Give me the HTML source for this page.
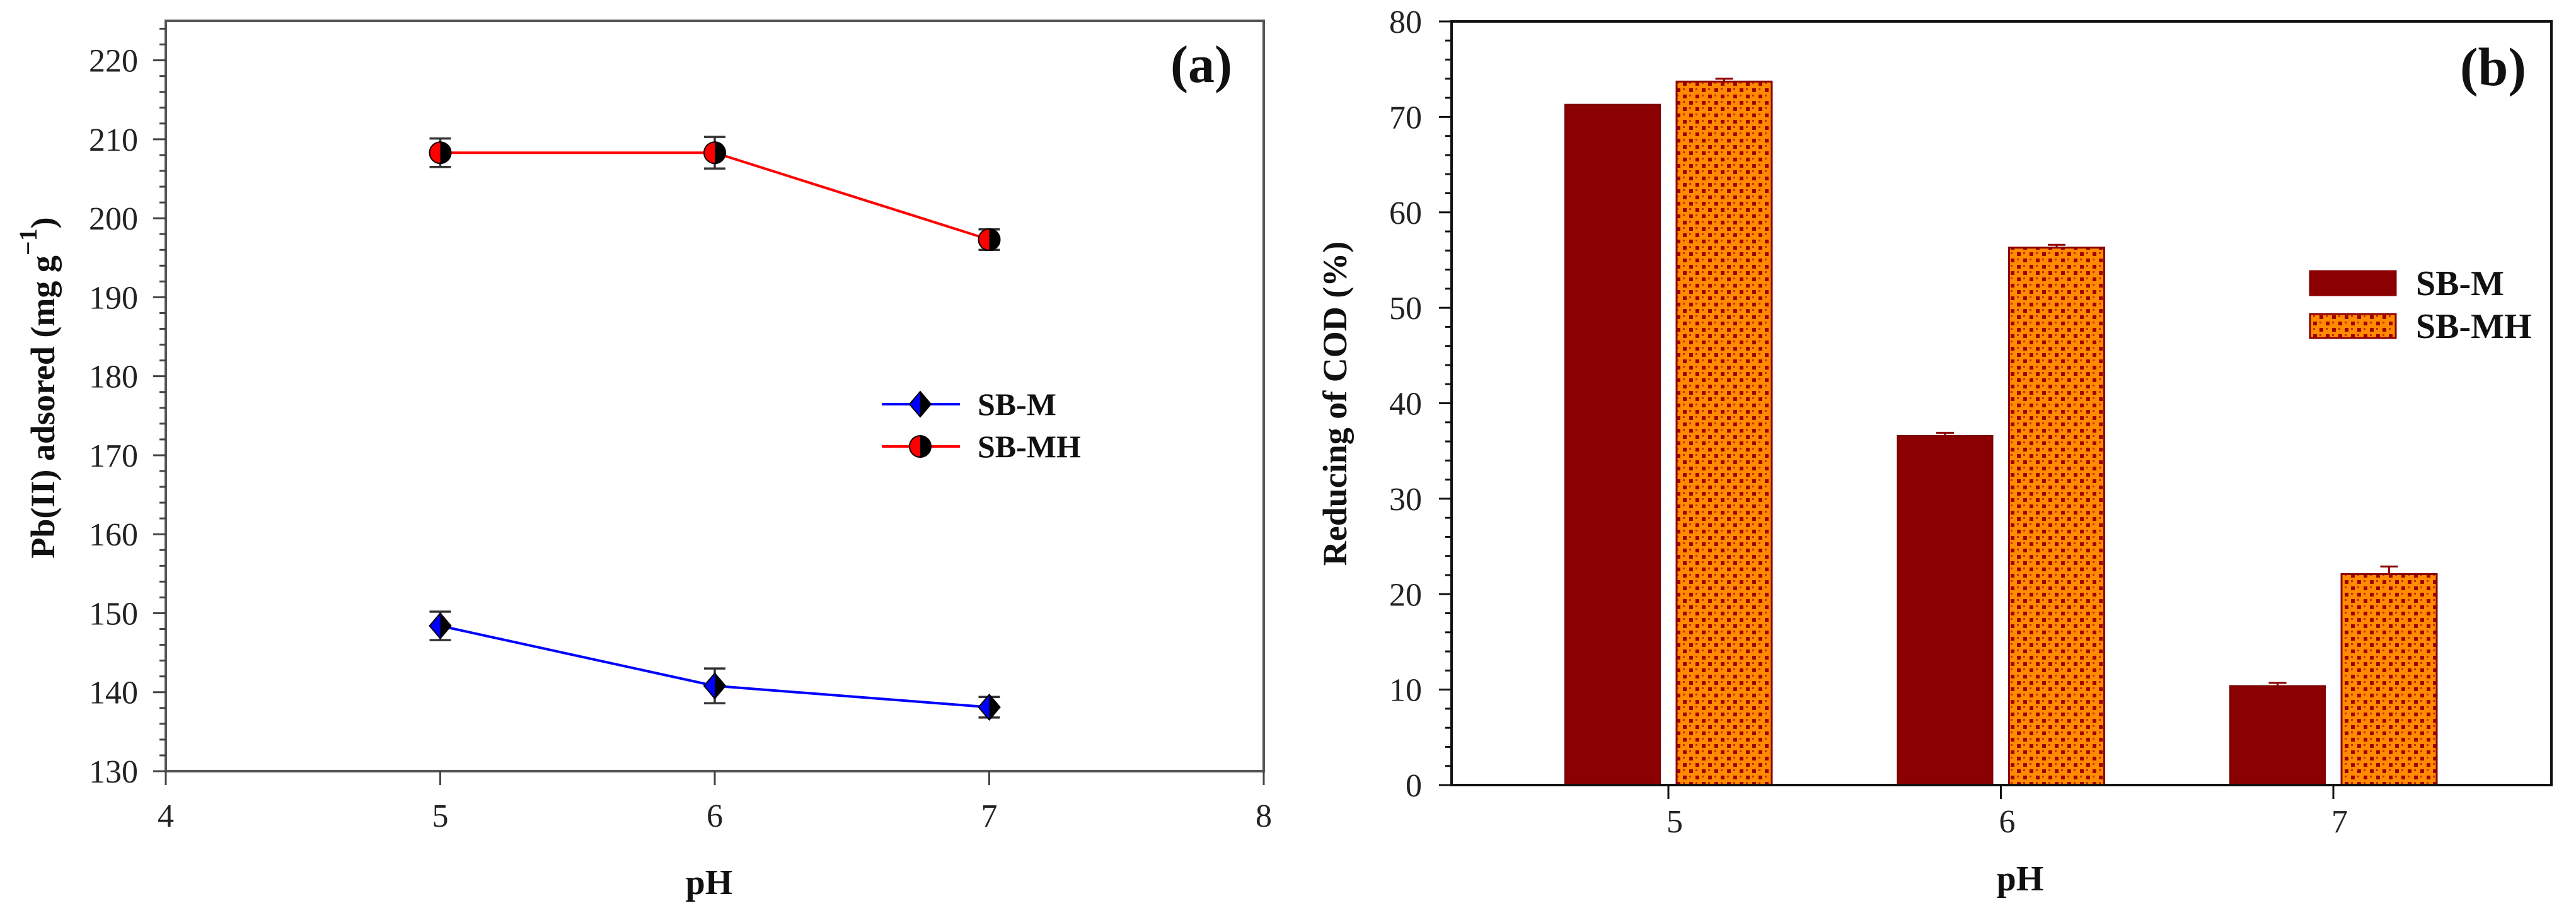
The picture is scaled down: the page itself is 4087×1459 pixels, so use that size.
<!DOCTYPE html>
<html><head><meta charset="utf-8">
<style>
html,body{margin:0;padding:0;background:#fff;}
svg{display:block;}
svg text{font-family:"Liberation Serif","Times New Roman",serif;}
</style></head>
<body>
<svg id="chart" width="4087" height="1459" viewBox="0 0 4087 1459" xmlns="http://www.w3.org/2000/svg" font-family="Liberation Serif, Times New Roman, serif">
<defs>
<pattern id="hatch" patternUnits="userSpaceOnUse" width="20" height="20">
<rect width="20" height="20" fill="#ff8c00"/>
<rect x="0" y="0" width="6" height="6" fill="#a00000"/>
<rect x="10" y="10" width="6" height="6" fill="#a00000"/>
<rect x="10" y="0" width="3" height="3" fill="#c83000"/>
<rect x="0" y="10" width="3" height="3" fill="#c83000"/>
</pattern>
<clipPath id="leftHalf"><rect x="-50" y="-50" width="50" height="100"/></clipPath>
</defs>
<g id="panelA"></g>
<g id="panelB"></g>
</svg>
<script>
// ---- Panel (a) data ----
const phA = [5, 6, 7];
const sbmA = [148.4, 140.8, 138.1];
const sbmErrA = [1.8, 2.2, 1.3];
const sbmhA = [208.3, 208.3, 197.3];
const sbmhErrA = [1.8, 2.0, 1.3];
const xTicksA = [4, 5, 6, 7, 8];
const yTicksA = [130, 140, 150, 160, 170, 180, 190, 200, 210, 220];
// ---- Panel (b) data ----
const catsB = ["5", "6", "7"];
const sbmB = [71.3, 36.6, 10.4];
const sbmErrB = [0, 0.3, 0.3];
const sbmhB = [73.7, 56.3, 22.1];
const sbmhErrB = [0.3, 0.3, 0.8];
const yTicksB = [0, 10, 20, 30, 40, 50, 60, 70, 80];

const NS = "http://www.w3.org/2000/svg";
const FF = "Liberation Serif, Times New Roman, serif";
function mk(parent, tag, attrs, text) {
  const e = document.createElementNS(NS, tag);
  for (const k in attrs) e.setAttribute(k, attrs[k]);
  if (tag === 'text') e.setAttribute('font-family', FF);
  if (text !== undefined) e.textContent = text;
  parent.appendChild(e);
  return e;
}

// ===== Panel A =====
const A = document.getElementById('panelA');
const aL = 263, aR = 2005, aT = 33, aB = 1223;
const xA = v => aL + (v - 4) / 4 * (aR - aL);
const yA = v => aB - (v - 130) / 95 * (aB - aT);

let fr = mk(A, 'rect', {x: aL, y: aT, width: aR - aL, height: aB - aT, fill: 'none', stroke: '#555', 'stroke-width': 4});



for (let v = 130; v <= 224; v += 2) {
  const major = (v % 10 === 0);
  const t = mk(A, 'line', {x1: aL - (major ? 20 : 10), x2: aL, y1: yA(v), y2: yA(v), stroke: '#444', 'stroke-width': 3});
  
  
}
yTicksA.forEach(v => {
  const t = mk(A, 'text', {x: 219, y: yA(v) + 18, 'text-anchor': 'end', 'font-size': 52, fill: '#222'}, String(v));
  
  
});
xTicksA.forEach(v => {
  const l = mk(A, 'line', {x1: xA(v), x2: xA(v), y1: aB, y2: aB + 22, stroke: '#444', 'stroke-width': 3});
  
  
  const t = mk(A, 'text', {x: xA(v), y: 1311, 'text-anchor': 'middle', 'font-size': 52, fill: '#222'}, String(v));
  
  
});
let xt = mk(A, 'text', {x: 1125, y: 1418, 'text-anchor': 'middle', 'font-size': 56, 'font-weight': 'bold', fill: '#111'}, 'pH');


let yt = mk(A, 'text', {x: 0, y: 0, transform: 'translate(86,615) rotate(-90)', 'text-anchor': 'middle', 'font-size': 54, 'font-weight': 'bold', fill: '#111'});


yt.innerHTML = 'Pb(II) adsored (mg g<tspan dy="-28" font-size="40">−1</tspan><tspan dy="28">)</tspan>';
let la = mk(A, 'text', {x: 1955, y: 130, 'text-anchor': 'end', 'font-size': 84, 'font-weight': 'bold', fill: '#111'}, '(a)');



function series(vals, errs, color, kind, name) {
  const pts = phA.map((p, i) => xA(p) + ',' + yA(vals[i])).join(' ');
  const pl = mk(A, 'polyline', {points: pts, fill: 'none', stroke: color, 'stroke-width': 4});
  
  
  phA.forEach((p, i) => {
    const cx = xA(p), cy = yA(vals[i]), e1 = yA(vals[i] + errs[i]), e2 = yA(vals[i] - errs[i]);
    const eb = mk(A, 'path', {d: `M${cx},${e1}V${e2}M${cx-17},${e1}H${cx+17}M${cx-17},${e2}H${cx+17}`, stroke: '#333', 'stroke-width': 3.5, fill: 'none'});
    
    
    marker(A, cx, cy, color, kind, name + '-point');
  });
}
function marker(parent, cx, cy, color, kind, name) {
  const g = mk(parent, 'g', {transform: `translate(${cx},${cy})`});
  
  
  if (kind === 'circle') {
    mk(g, 'circle', {r: 17, fill: '#000'});
    mk(g, 'circle', {r: 17, fill: color, 'clip-path': 'url(#leftHalf)'});
    mk(g, 'circle', {r: 17, fill: 'none', stroke: '#000', 'stroke-width': 2});
  } else {
    const d = 'M0,-20L17,0L0,20L-17,0Z';
    mk(g, 'path', {d: d, fill: '#000'});
    mk(g, 'path', {d: d, fill: color, 'clip-path': 'url(#leftHalf)'});
    mk(g, 'path', {d: d, fill: 'none', stroke: '#000', 'stroke-width': 2});
  }
}
series(sbmA, sbmErrA, '#0000ff', 'diamond', 'sb-m');
series(sbmhA, sbmhErrA, '#ff0000', 'circle', 'sb-mh');

// legend a
[['SB-M', '#0000ff', 'diamond', 641], ['SB-MH', '#ff0000', 'circle', 708]].forEach(([lab, c, k, y]) => {
  const g = mk(A, 'g', {});
  
  
  mk(g, 'line', {x1: 1399, x2: 1523, y1: y, y2: y, stroke: c, 'stroke-width': 4});
  marker(g, 1460, y, c, k, 'legend-marker');
  mk(g, 'text', {x: 1551, y: y + 17, 'font-size': 50, 'font-weight': 'bold', fill: '#111'}, lab);
});

// ===== Panel B =====
const B = document.getElementById('panelB');
const bL = 2303, bR = 4048, bT = 34, bB = 1245;
const yB = v => bB - v / 80 * (bB - bT);
const xB = i => 2647 + i * 527.5;
const bw = 151, gap = 26;

for (let v = 0; v <= 80; v += 2) {
  const major = (v % 10 === 0);
  const t = mk(B, 'line', {x1: bL - (major ? 20 : 10), x2: bL, y1: yB(v), y2: yB(v), stroke: '#111', 'stroke-width': 3});
  
  
}
yTicksB.forEach(v => {
  const t = mk(B, 'text', {x: 2256, y: yB(v) + 18, 'text-anchor': 'end', 'font-size': 52, fill: '#222'}, String(v));
  
  
});
catsB.forEach((c, i) => {
  const x = xB(i);
  const l = mk(B, 'line', {x1: x, x2: x, y1: bB, y2: bB + 22, stroke: '#111', 'stroke-width': 3});
  
  
  const t = mk(B, 'text', {x: x + 10, y: 1320, 'text-anchor': 'middle', 'font-size': 52, fill: '#222'}, c);
  
  
  const x1 = x - gap / 2 - bw;
  const r1 = mk(B, 'rect', {x: x1, y: yB(sbmB[i]), width: bw, height: bB - yB(sbmB[i]), fill: '#8b0000', stroke: '#7a0000', 'stroke-width': 2});
  
  
  const x2 = x + gap / 2;
  const r2 = mk(B, 'rect', {x: x2, y: yB(sbmhB[i]), width: bw, height: bB - yB(sbmhB[i]), fill: 'url(#hatch)', stroke: '#8b0000', 'stroke-width': 3});
  
  
  [[x1, sbmB[i], sbmErrB[i]], [x2, sbmhB[i], sbmhErrB[i]]].forEach(([bx, v, e]) => {
    if (e <= 0) return;
    const cx = bx + bw / 2, yt2 = yB(v + e);
    const eb = mk(B, 'path', {d: `M${cx},${yB(v)}V${yt2}M${cx-14},${yt2}H${cx+14}`, stroke: '#8b0000', 'stroke-width': 3, fill: 'none'});
    
    
  });
});
let frb = mk(B, 'rect', {x: bL, y: bT, width: bR - bL, height: bB - bT, fill: 'none', stroke: '#111', 'stroke-width': 4});


let xtb = mk(B, 'text', {x: 3205, y: 1412, 'text-anchor': 'middle', 'font-size': 56, 'font-weight': 'bold', fill: '#111'}, 'pH');


let ytb = mk(B, 'text', {x: 0, y: 0, transform: 'translate(2136,640) rotate(-90)', 'text-anchor': 'middle', 'font-size': 54, 'font-weight': 'bold', fill: '#111'}, 'Reducing of COD (%)');


let lb = mk(B, 'text', {x: 4008, y: 135, 'text-anchor': 'end', 'font-size': 86, 'font-weight': 'bold', fill: '#111'}, '(b)');


[['SB-M', '#8b0000', 430], ['SB-MH', 'url(#hatch)', 498]].forEach(([lab, f, y]) => {
  const g = mk(B, 'g', {});
  
  
  mk(g, 'rect', {x: 3665, y: y, width: 136, height: 38, fill: f, stroke: '#8b0000', 'stroke-width': 3});
  mk(g, 'text', {x: 3833, y: y + 38, 'font-size': 56, 'font-weight': 'bold', fill: '#111'}, lab);
});
</script>
</body></html>
